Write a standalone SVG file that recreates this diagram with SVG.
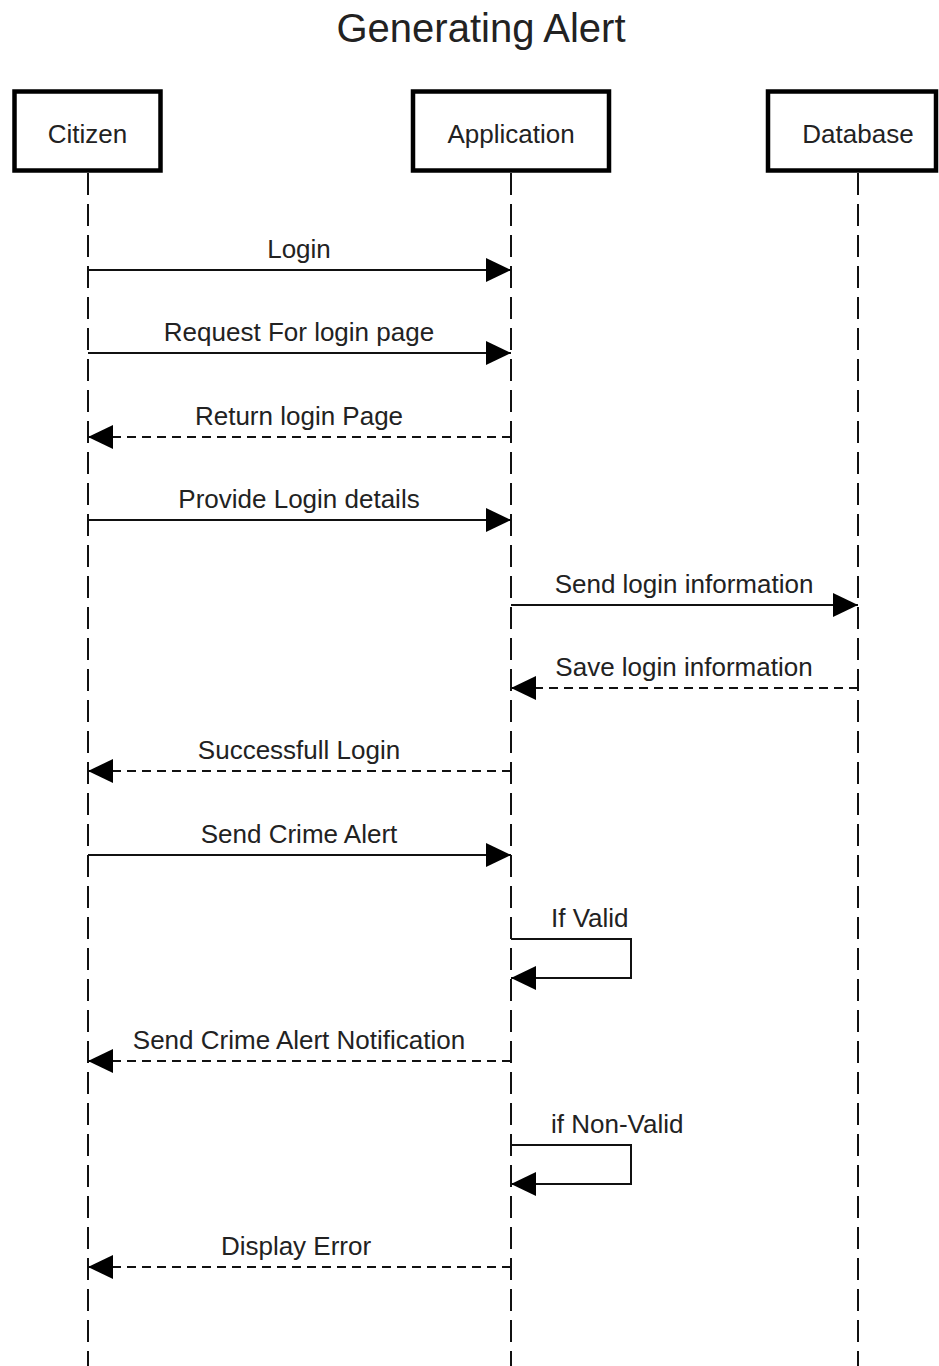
<svg xmlns="http://www.w3.org/2000/svg" width="939" height="1366" viewBox="0 0 939 1366">
<style>
text{font-family:"Liberation Sans",Arial,sans-serif;fill:#222;}
.lbl{font-size:26px;text-anchor:middle;}
.box{fill:#fff;stroke:#000;stroke-width:4.5;}
.life{stroke:#111;stroke-width:2;stroke-dasharray:22 9;fill:none;}
.msg{stroke:#111;stroke-width:2;fill:none;}
.ret{stroke:#111;stroke-width:2;fill:none;stroke-dasharray:9 6;}
</style>
<defs>
<marker id="ah" markerWidth="25" markerHeight="24" refX="25" refY="12" orient="auto" markerUnits="userSpaceOnUse">
<path d="M0,0 L25,12 L0,24 Z" fill="#000"/>
</marker>
</defs>
<rect width="939" height="1366" fill="#fff"/>
<text x="481" y="42" font-size="40" text-anchor="middle">Generating Alert</text>
<g id="lifelines">
<line class="life" x1="88" y1="173" x2="88" y2="1366"/>
<line class="life" x1="511" y1="173" x2="511" y2="1366"/>
<line class="life" x1="858" y1="173" x2="858" y2="1366"/>
</g>
<g id="citizen"><rect class="box" x="14.5" y="91.5" width="146" height="79"/><text class="lbl" x="87.5" y="143">Citizen</text></g>
<g id="application"><rect class="box" x="413" y="91.5" width="196" height="79"/><text class="lbl" x="511" y="143">Application</text></g>
<g id="database"><rect class="box" x="768" y="91.5" width="168" height="79"/><text class="lbl" x="858" y="143">Database</text></g>
<g id="connectors">
<line class="msg" x1="88" y1="270" x2="511" y2="270" marker-end="url(#ah)"/>
<line class="msg" x1="88" y1="353" x2="511" y2="353" marker-end="url(#ah)"/>
<line class="ret" x1="511" y1="437" x2="88" y2="437" marker-end="url(#ah)"/>
<line class="msg" x1="88" y1="520" x2="511" y2="520" marker-end="url(#ah)"/>
<line class="msg" x1="511" y1="605" x2="858" y2="605" marker-end="url(#ah)"/>
<line class="ret" x1="858" y1="688" x2="511" y2="688" marker-end="url(#ah)"/>
<line class="ret" x1="511" y1="771" x2="88" y2="771" marker-end="url(#ah)"/>
<line class="msg" x1="88" y1="855" x2="511" y2="855" marker-end="url(#ah)"/>
<polyline class="msg" points="511,939 631,939 631,978 511,978" marker-end="url(#ah)"/>
<line class="ret" x1="511" y1="1061" x2="88" y2="1061" marker-end="url(#ah)"/>
<polyline class="msg" points="511,1145 631,1145 631,1184 511,1184" marker-end="url(#ah)"/>
<line class="ret" x1="511" y1="1267" x2="88" y2="1267" marker-end="url(#ah)"/>
</g>
<g id="labels">
<text class="lbl" x="299" y="258">Login</text>
<text class="lbl" x="299" y="341">Request For login page</text>
<text class="lbl" x="299" y="425">Return login Page</text>
<text class="lbl" x="299" y="508">Provide Login details</text>
<text class="lbl" x="684" y="593">Send login information</text>
<text class="lbl" x="684" y="676">Save login information</text>
<text class="lbl" x="299" y="759">Successfull Login</text>
<text class="lbl" x="299" y="843">Send Crime Alert</text>
<text x="551" y="927" font-size="26">If Valid</text>
<text class="lbl" x="299" y="1049">Send Crime Alert Notification</text>
<text x="551" y="1133" font-size="26">if Non-Valid</text>
<text class="lbl" x="296" y="1255">Display Error</text>
</g>
</svg>
